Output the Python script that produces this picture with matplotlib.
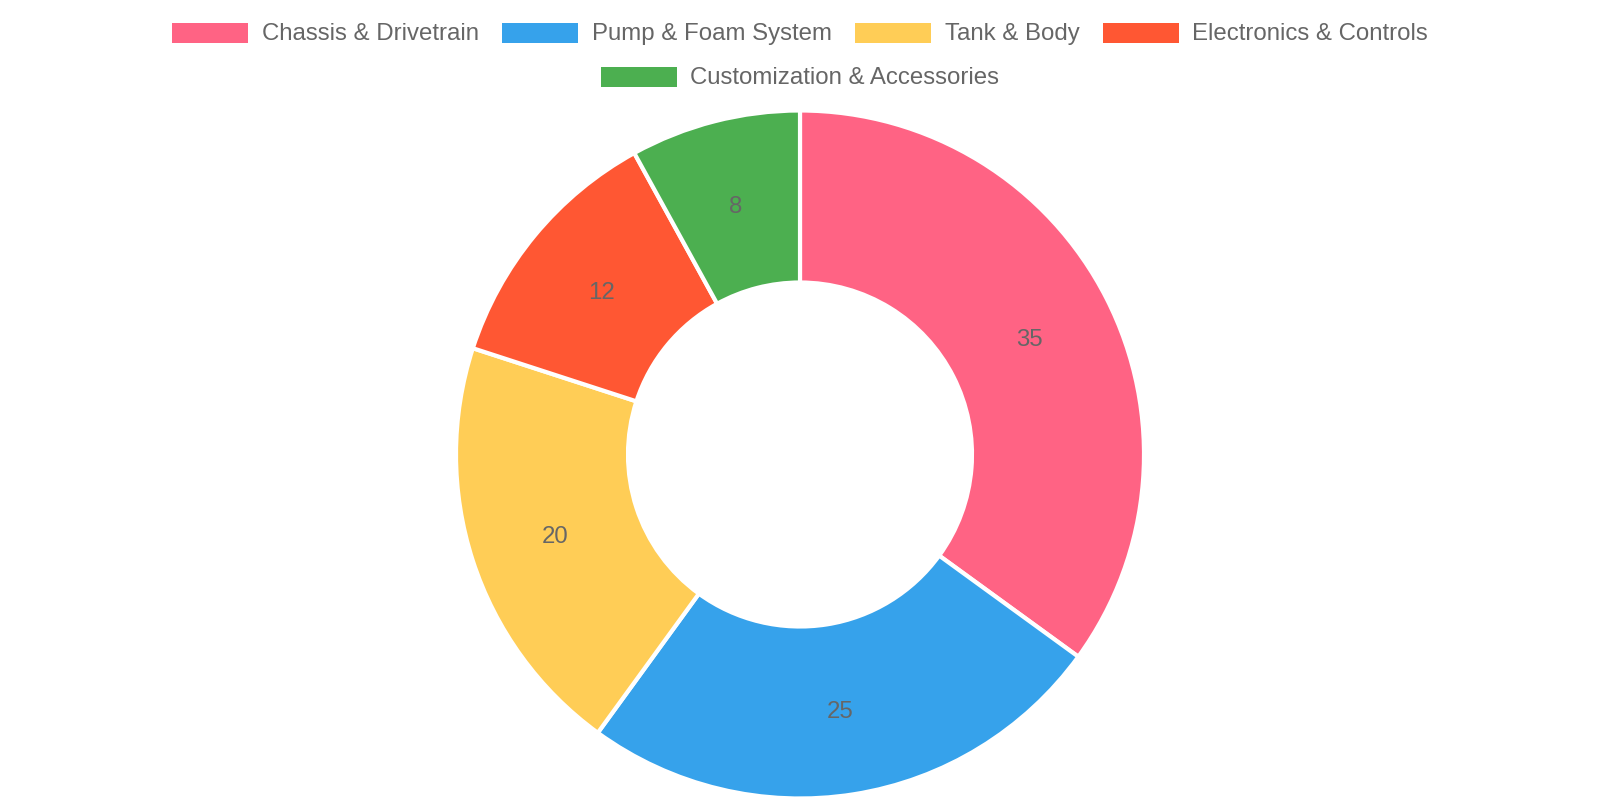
import numpy as np
import matplotlib
matplotlib.use("Agg")
import matplotlib.pyplot as plt
from matplotlib.patches import Rectangle

labels = ["Chassis & Drivetrain", "Pump & Foam System", "Tank & Body",
          "Electronics & Controls", "Customization & Accessories"]
values = [35, 25, 20, 12, 8]
colors = ["#FF6384", "#36A2EB", "#FFCD56", "#FF5733", "#4CAF50"]

W, H = 1600, 800
fig = plt.figure(figsize=(16, 8), dpi=100)
ax = fig.add_axes([0, 0, 1, 1])
ax.set_xlim(0, W)
ax.set_ylim(H, 0)
ax.axis("off")

cx, cy = 800, 454.5
r_out = 344
r_in = 0.5 * r_out

# doughnut, clockwise from top (y axis is flipped, so counterclock=True draws clockwise on screen)
wedges, _ = ax.pie(values, colors=colors, startangle=-90, counterclock=True,
                   center=(cx, cy), radius=r_out,
                   wedgeprops=dict(width=r_out - r_in, edgecolor="white", linewidth=3))
ax.set_xlim(0, W)
ax.set_ylim(H, 0)
ax.set_aspect("auto")

# value labels in the middle of each ring segment
total = sum(values)
start = 0.0
r_mid = (r_out + r_in) / 2
for v in values:
    mid = (start + v / 2) / total * 2 * np.pi
    x = cx + r_mid * np.sin(mid)
    y = cy - r_mid * np.cos(mid) + 2.5
    ax.text(x, y, str(v), ha="center", va="center", fontsize=17.3,
            family="Liberation Sans", color="#666666")
    start += v

# legend laid out like the chart.js one: two centred rows
rows = [[0, 1, 2, 3], [4]]
row_y = [34, 78]
box_w, box_h, gap, pad = 76, 20, 14, 23
fig.canvas.draw()
renderer = fig.canvas.get_renderer()
for row, ry in zip(rows, row_y):
    items = []
    for i in row:
        t = ax.text(0, ry, labels[i], ha="left", va="center", fontsize=17.3,
                    family="Liberation Sans", color="#666666")
        tw = t.get_window_extent(renderer).width
        items.append((i, t, tw))
    total_w = sum(box_w + gap + tw for _, _, tw in items) + pad * (len(items) - 1)
    x = (W - total_w) / 2
    for i, t, tw in items:
        ax.add_patch(Rectangle((x, ry - 1 - box_h / 2), box_w, box_h,
                               facecolor=colors[i], edgecolor="none"))
        t.set_x(x + box_w + gap)
        x += box_w + gap + tw + pad

fig.savefig("out.png", dpi=100, facecolor="white")
